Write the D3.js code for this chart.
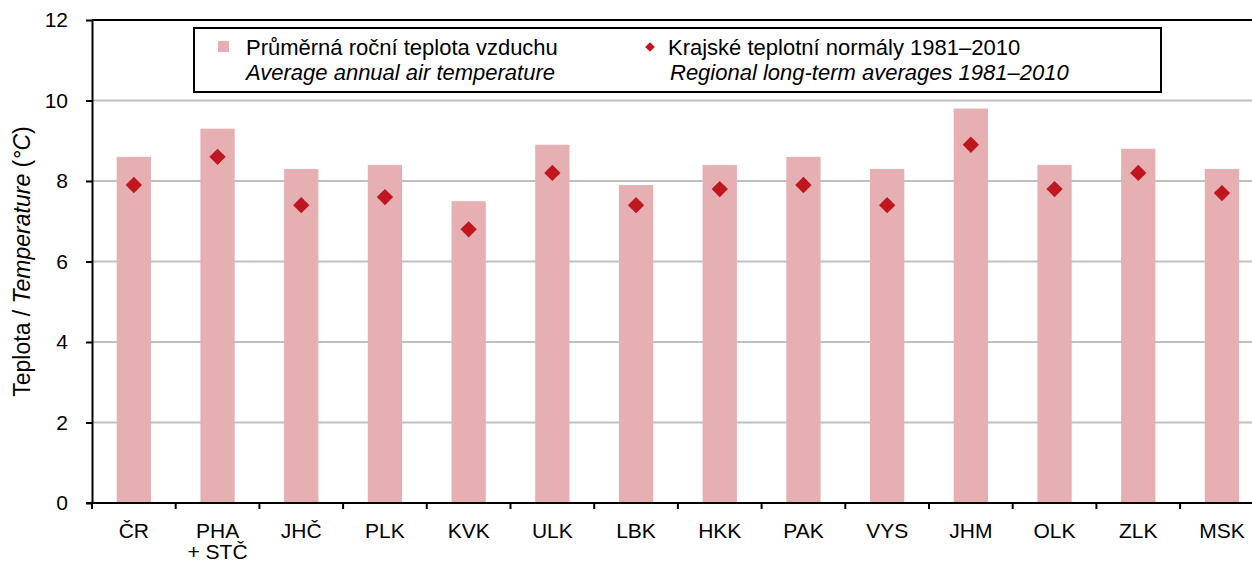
<!DOCTYPE html>
<html>
<head>
<meta charset="utf-8">
<script src="https://cdn.jsdelivr.net/npm/d3@7"></script>
<style>
  body { margin: 0; background: #fff; }
  svg { font-family: "Liberation Sans", Arial, sans-serif; }
</style>
</head>
<body>
<div id="chart"></div>
<script>
const regions = ["ČR", "PHA\n+ STČ", "JHČ", "PLK", "KVK", "ULK", "LBK", "HKK", "PAK", "VYS", "JHM", "OLK", "ZLK", "MSK"];
const annualTemp = [8.6, 9.3, 8.3, 8.4, 7.5, 8.9, 7.9, 8.4, 8.6, 8.3, 9.8, 8.4, 8.8, 8.3];
const normals = [7.9, 8.6, 7.4, 7.6, 6.8, 8.2, 7.4, 7.8, 7.9, 7.4, 8.9, 7.8, 8.2, 7.7];
const yTicks = [0, 2, 4, 6, 8, 10, 12];

const W = 1252, H = 562;
const MARGIN = {TOP: 20, LEFT: 92, BOTTOM: 59};
const STEP = 83.7;
const PLOT_RIGHT = MARGIN.LEFT + STEP * regions.length;
const BOTTOM = H - MARGIN.BOTTOM;

const svg = d3.select("#chart").append("svg")
    .attr("width", W)
    .attr("height", H);

const x = d3.scaleBand()
    .domain(regions)
    .range([MARGIN.LEFT, PLOT_RIGHT])
    .paddingInner(0.59)
    .paddingOuter(0.295);

const y = d3.scaleLinear()
    .domain([0, 12])
    .range([BOTTOM, MARGIN.TOP]);

// Gridlines
svg.append("g")
    .selectAll("line")
    .data(yTicks.filter(d => d > 0 && d < 12))
    .enter().append("line")
        .attr("x1", MARGIN.LEFT)
        .attr("x2", PLOT_RIGHT)
        .attr("y1", d => y(d))
        .attr("y2", d => y(d))
        .attr("stroke", "#c0c0c0")
        .attr("stroke-width", 2);

// Bars
svg.append("g")
    .selectAll("rect")
    .data(annualTemp)
    .enter().append("rect")
        .attr("x", (d, i) => x(regions[i]))
        .attr("y", d => y(d))
        .attr("width", x.bandwidth())
        .attr("height", d => BOTTOM - y(d))
        .attr("fill", "#e6b0b3");

// Diamonds for normals
const diamond = d3.symbol().type(d3.symbolDiamond2).size(170);
svg.append("g")
    .selectAll("path")
    .data(normals)
    .enter().append("path")
        .attr("d", diamond)
        .attr("transform", (d, i) => `translate(${x(regions[i]) + x.bandwidth() / 2}, ${y(d)})`)
        .attr("fill", "#c0161f");

// Top border line
svg.append("line")
    .attr("x1", MARGIN.LEFT).attr("x2", W)
    .attr("y1", y(12)).attr("y2", y(12))
    .attr("stroke", "#000").attr("stroke-width", 2);

// Y axis
const yAxis = svg.append("g")
    .attr("transform", `translate(${MARGIN.LEFT}, 0)`)
    .call(d3.axisLeft(y).tickValues(yTicks).tickSize(6).tickPadding(18).tickSizeOuter(0));
yAxis.select(".domain").attr("stroke-width", 2);
yAxis.selectAll(".tick line").attr("stroke-width", 2);
yAxis.selectAll(".tick text")
    .attr("font-size", 21)
    .attr("font-family", "Liberation Sans, Arial, sans-serif")
    .attr("fill", "#000");

// X axis line
svg.append("line")
    .attr("x1", MARGIN.LEFT - 6).attr("x2", W)
    .attr("y1", BOTTOM).attr("y2", BOTTOM)
    .attr("stroke", "#000").attr("stroke-width", 2);

// Tick marks between categories
svg.append("g")
    .selectAll("line")
    .data(regions)
    .enter().append("line")
        .attr("x1", d => x(d) + x.bandwidth() / 2 - x.step() / 2)
        .attr("x2", d => x(d) + x.bandwidth() / 2 - x.step() / 2)
        .attr("y1", BOTTOM)
        .attr("y2", BOTTOM + 6)
        .attr("stroke", "#000")
        .attr("stroke-width", 2);

// Category labels
const labels = svg.append("g")
    .selectAll("text")
    .data(regions)
    .enter().append("text")
        .attr("x", d => x(d) + x.bandwidth() / 2)
        .attr("y", BOTTOM + 35)
        .attr("text-anchor", "middle")
        .attr("font-size", 21);
labels.each(function(d) {
    const lines = d.split("\n");
    const t = d3.select(this);
    lines.forEach((s, i) => {
        t.append("tspan")
            .attr("x", t.attr("x"))
            .attr("dy", i === 0 ? 0 : 21)
            .text(s);
    });
});

// Y axis title
const yTitle = svg.append("text")
    .attr("transform", `translate(30, ${(y(0) + y(12)) / 2}) rotate(-90)`)
    .attr("text-anchor", "middle")
    .attr("font-size", 23);
yTitle.append("tspan").text("Teplota / ");
yTitle.append("tspan").attr("font-style", "italic").text("Temperature");
yTitle.append("tspan").text(" (");
yTitle.append("tspan").attr("font-style", "italic").text("°C");
yTitle.append("tspan").text(")");

// Legend
const legend = svg.append("g");
legend.append("rect")
    .attr("x", 194).attr("y", 28)
    .attr("width", 967).attr("height", 64)
    .attr("fill", "#fff")
    .attr("stroke", "#000")
    .attr("stroke-width", 2);
legend.append("rect")
    .attr("x", 218).attr("y", 41)
    .attr("width", 11).attr("height", 11)
    .attr("fill", "#e6b0b3");
legend.append("path")
    .attr("d", d3.symbol().type(d3.symbolDiamond2).size(60))
    .attr("transform", "translate(650, 47)")
    .attr("fill", "#c0161f");
const legendText = [
    {x: 246, y: 55, text: "Průměrná roční teplota vzduchu", italic: false},
    {x: 246, y: 80, text: "Average annual air temperature", italic: true},
    {x: 668, y: 55, text: "Krajské teplotní normály 1981–2010", italic: false},
    {x: 670, y: 80, text: "Regional long-term averages 1981–2010", italic: true}
];
legend.selectAll("text.lt")
    .data(legendText)
    .enter().append("text")
        .attr("class", "lt")
        .attr("x", d => d.x)
        .attr("y", d => d.y)
        .attr("font-size", 22)
        .attr("font-style", d => d.italic ? "italic" : "normal")
        .text(d => d.text);
</script>
</body>
</html>
